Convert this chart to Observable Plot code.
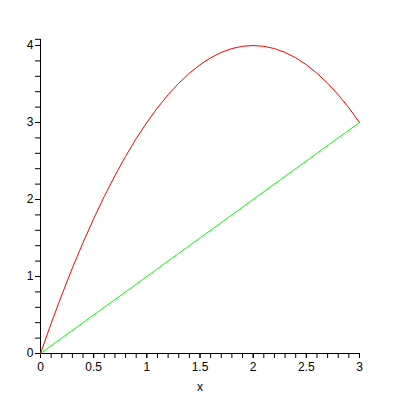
<!DOCTYPE html>
<html>
<head>
<meta charset="utf-8">
<script src="https://cdn.jsdelivr.net/npm/d3@7"></script>
<script src="https://cdn.jsdelivr.net/npm/@observablehq/plot@0.6"></script>
<style>
  html, body { margin: 0; padding: 0; background: #fff; }
</style>
</head>
<body>
<div id="chart"></div>
<script>
// Red curve, values
const redX = [0, 0.1, 0.2, 0.3, 0.4, 0.5, 0.6, 0.7, 0.8, 0.9, 1.0, 1.1, 1.2, 1.3, 1.4, 1.5,
              1.6, 1.7, 1.8, 1.9, 2.0, 2.1, 2.2, 2.3, 2.4, 2.5, 2.6, 2.7, 2.8, 2.9, 3.0];
const redY = [0, 0.39, 0.76, 1.11, 1.44, 1.75, 2.04, 2.31, 2.56, 2.79, 3.0, 3.19, 3.36, 3.51, 3.64, 3.75,
              3.84, 3.91, 3.96, 3.99, 4.0, 3.99, 3.96, 3.91, 3.84, 3.75, 3.64, 3.51, 3.36, 3.19, 3.0];
// Green line
const greenX = [0, 3];
const greenY = [0, 3];
// Tick labels
const xMajor = [0, 0.5, 1, 1.5, 2, 2.5, 3];
const yMajor = [0, 1, 2, 3, 4];
const xMinor = d3.range(0, 31).map(i => i / 10);
const yMinor = d3.range(0, 21).map(i => i / 5).concat([4.08]);
const axisLabel = "x";

const red = redX.map((x, i) => ({x, y: redY[i]}));
const green = greenX.map((x, i) => ({x, y: greenY[i]}));

const font = "Liberation Sans, Arial, sans-serif";

const chart = Plot.plot({
  width: 400,
  height: 400,
  marginLeft: 40,
  marginRight: 41,
  marginTop: 45,
  marginBottom: 47,
  style: {fontFamily: font, fontSize: "12px", color: "#000", background: "#fff"},
  x: {domain: [0, 3]},
  y: {domain: [0, 4]},
  marks: [
    Plot.axisX({ticks: xMinor, tickSize: 5, tickFormat: () => "", stroke: "#000", strokeOpacity: 1, label: null}),
    Plot.axisX({ticks: xMajor, tickSize: 5, tickPadding: 4, tickFormat: d => String(d), fill: "#000", stroke: "#000", strokeOpacity: 1, label: null}),
    Plot.axisY({ticks: yMinor, tickSize: 5, tickFormat: () => "", stroke: "#000", strokeOpacity: 1, label: null}),
    Plot.axisY({ticks: yMajor, tickSize: 5, tickPadding: 2, tickFormat: d => String(d), fill: "#000", stroke: "#000", strokeOpacity: 1, label: null}),
    Plot.ruleY([0], {x1: 0, x2: 3, stroke: "#000"}),
    Plot.ruleX([0], {y1: 0, y2: 4.08, stroke: "#000"}),
    Plot.line(green, {x: "x", y: "y", stroke: "#00ff00", strokeWidth: 1}),
    Plot.line(red, {x: "x", y: "y", stroke: "#ff0000", strokeWidth: 1}),
    Plot.text([axisLabel], {frameAnchor: "bottom", dy: 37, fill: "#000", fontSize: 12})
  ]
});
document.getElementById("chart").appendChild(chart);
</script>
</body>
</html>
